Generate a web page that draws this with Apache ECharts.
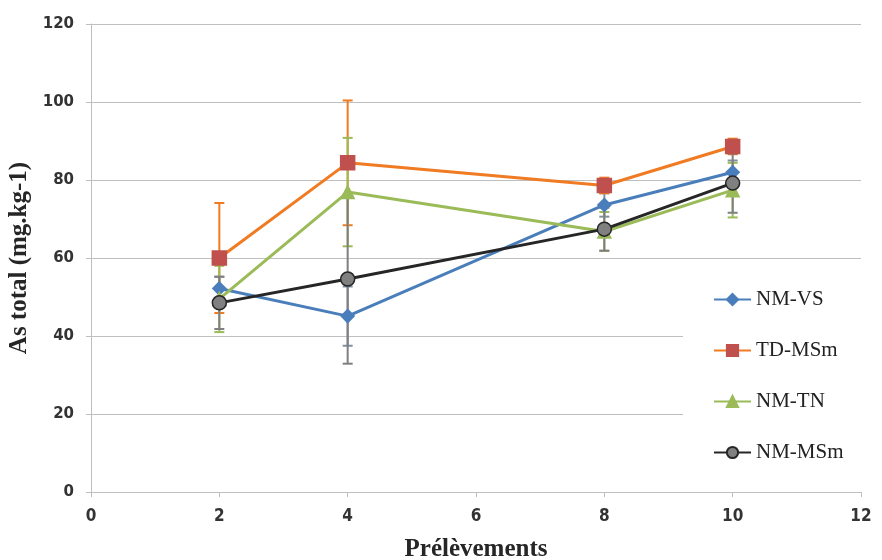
<!DOCTYPE html>
<html><head><meta charset="utf-8">
<script src="https://cdn.jsdelivr.net/npm/echarts@6/dist/echarts.min.js"></script>
<style>html,body{margin:0;padding:0;background:#fff}#c{width:882px;height:560px}</style>
</head><body><div id="c"></div>
<script>
const xValues = [2, 4, 8, 10];
const seriesNames = ['NM-VS', 'TD-MSm', 'NM-TN', 'NM-MSm'];
const nmVS = [52.2, 45.1, 73.6, 82.0];
const nmVSErr = [3.0, 7.6, 3.0, 3.0];
const tdMSm = [60.0, 84.4, 78.6, 88.6];
const tdMSmErr = [14.1, 16.0, 2.0, 2.0];
const nmTN = [49.5, 76.9, 66.8, 77.4];
const nmTNErr = [8.5, 13.9, 5.0, 7.0];
const nmMSm = [48.5, 54.6, 67.4, 79.2];
const nmMSmErr = [6.7, 21.7, 5.5, 7.6];
const yTicks = [0, 20, 40, 60, 80, 100, 120];
const xTicks = [0, 2, 4, 6, 8, 10, 12];

const styles = [
  {line:'#4a7ebb', fill:'#4a7ebb', border:'#4a7ebb', symbol:'diamond', size:13, err:'#7f8fa6'},
  {line:'#f07b22', fill:'#c0504d', border:'#c0504d', symbol:'rect', size:14, err:'#f07b22'},
  {line:'#9bbb59', fill:'#9bbb59', border:'#9bbb59', symbol:'triangle', size:13, err:'#9bbb59'},
  {line:'#262626', fill:'#808080', border:'#262626', symbol:'circle', size:14, err:'#7f7f7f'}
];
const vals = [nmVS, tdMSm, nmTN, nmMSm];
const errs = [nmVSErr, tdMSmErr, nmTNErr, nmMSmErr];

const series = [];
vals.forEach((v, i) => {
  const s = styles[i];
  series.push({
    type: 'custom', name: seriesNames[i] + '-err', z: 1,
    data: xValues.map((x, k) => [x, v[k] - errs[i][k], v[k] + errs[i][k]]),
    renderItem: function (params, api) {
      const lo = api.coord([api.value(0), api.value(1)]);
      const hi = api.coord([api.value(0), api.value(2)]);
      const w = 5;
      const st = {stroke: s.err, lineWidth: 2};
      return {type: 'group', children: [
        {type: 'line', shape: {x1: lo[0], y1: lo[1], x2: hi[0], y2: hi[1]}, style: st},
        {type: 'line', shape: {x1: lo[0]-w, y1: lo[1], x2: lo[0]+w, y2: lo[1]}, style: st},
        {type: 'line', shape: {x1: hi[0]-w, y1: hi[1], x2: hi[0]+w, y2: hi[1]}, style: st}
      ]};
    },
    silent: true
  });
});
vals.forEach((v, i) => {
  const s = styles[i];
  series.push({
    type: 'line', name: seriesNames[i], z: 3 + i,
    data: xValues.map((x, k) => [x, v[k]]),
    symbol: s.symbol, symbolSize: s.size,
    lineStyle: {color: s.line, width: 3},
    itemStyle: {color: s.fill, borderColor: s.border, borderWidth: 1.5},
    emphasis: {disabled: true}
  });
});

const chart = echarts.init(document.getElementById('c'));
chart.setOption({
  animation: false,
  backgroundColor: '#fff',
  grid: {left: 91, right: 21, top: 24, bottom: 68, containLabel: false, outerBoundsMode: 'none'},
  legend: {
    data: seriesNames, orient: 'vertical', left: 683, top: 262,
    backgroundColor: '#fff', padding: [27, 18, 22, 30], itemGap: 30,
    itemWidth: 37, itemHeight: 14, z: 10,
    textStyle: {fontFamily: 'Liberation Serif', fontSize: 21, color: '#222'}
  },
  xAxis: {
    type: 'value', min: 0, max: 12, interval: 2,
    name: 'Prélèvements', nameLocation: 'middle', nameGap: 45,
    nameTextStyle: {fontFamily: 'Liberation Serif', fontSize: 25, fontWeight: 'bold', color: '#262626'},
    axisLine: {show: true, lineStyle: {color: '#bfbfbf', width: 1}},
    axisTick: {show: true, length: 5, lineStyle: {color: '#bfbfbf'}},
    splitLine: {show: false},
    axisLabel: {fontFamily: 'DejaVu Sans Condensed, Liberation Sans', fontSize: 17, fontWeight: 'bold', color: '#333', margin: 16,
      formatter: v => xTicks.includes(v) ? String(v) : ''}
  },
  yAxis: {
    type: 'value', min: 0, max: 120, interval: 20,
    name: 'As total (mg.kg-1)', nameLocation: 'middle', nameGap: 54, nameRotate: 90,
    nameTextStyle: {fontFamily: 'Liberation Serif', fontSize: 25, fontWeight: 'bold', color: '#262626'},
    axisLine: {show: true, lineStyle: {color: '#bfbfbf', width: 1}},
    axisTick: {show: true, length: 5, lineStyle: {color: '#bfbfbf'}},
    splitLine: {show: true, lineStyle: {color: '#bfbfbf', width: 1}},
    axisLabel: {fontFamily: 'DejaVu Sans', fontSize: 15, fontWeight: 'bold', color: '#333', margin: 17,
      formatter: v => yTicks.includes(v) ? String(v) : ''}
  },
  series: series
});
</script></body></html>
